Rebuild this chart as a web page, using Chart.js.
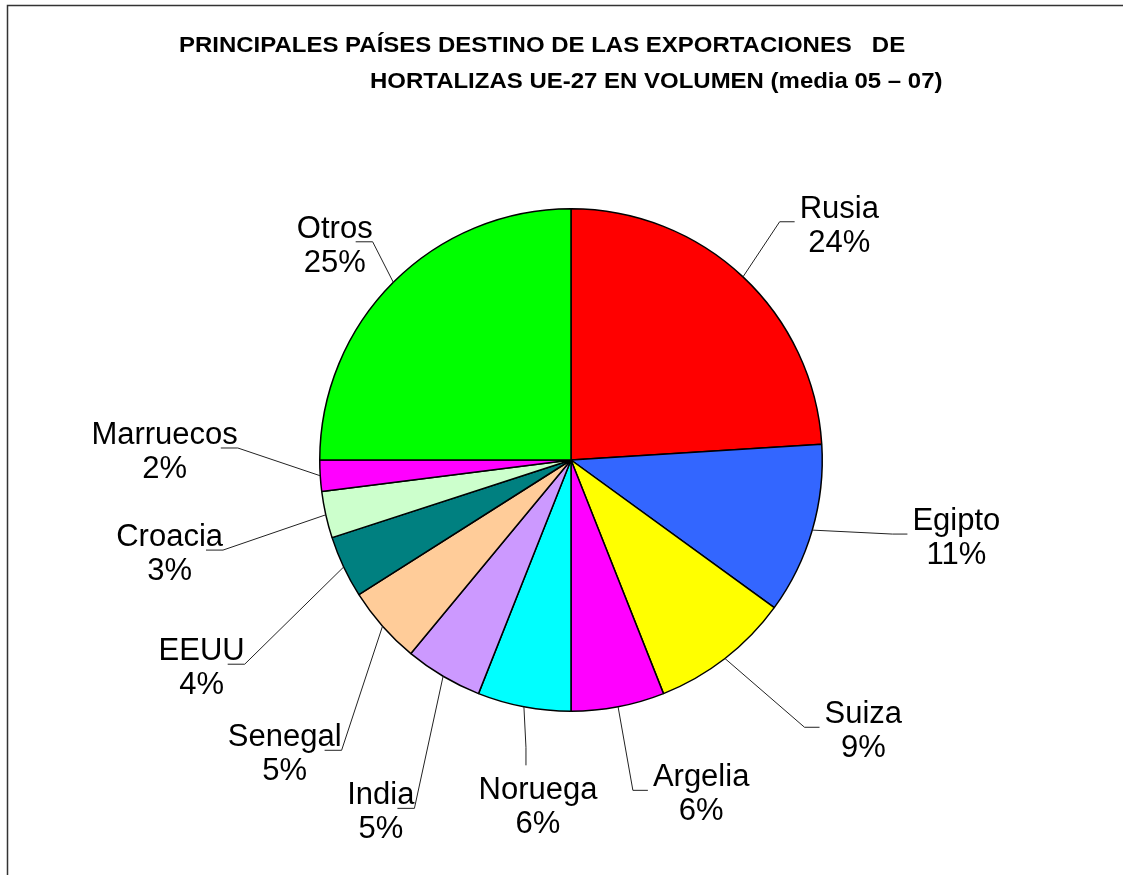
<!DOCTYPE html>
<html>
<head>
<meta charset="utf-8">
<title>Exportaciones de hortalizas UE-27</title>
<script src="https://cdn.jsdelivr.net/npm/chart.js@4/dist/chart.umd.min.js"></script>
<style>
  html, body { margin: 0; padding: 0; background: #fff; }
  #wrap { width: 1123px; height: 875px; position: relative; }
</style>
</head>
<body>
<div id="wrap"><canvas id="pieChart" width="1123" height="875"></canvas></div>
<script>
const countries = ['Rusia', 'Egipto', 'Suiza', 'Argelia', 'Noruega', 'India', 'Senegal', 'EEUU', 'Croacia', 'Marruecos', 'Otros'];
const shares = [24, 11, 9, 6, 6, 5, 5, 4, 3, 2, 25];
const sliceColors = ['#ff0000', '#3366ff', '#ffff00', '#ff00ff', '#00ffff', '#cc99ff', '#ffcc99', '#008080', '#ccffcc', '#ff00ff', '#00ff00'];
const titleLines = ['PRINCIPALES PAÍSES DESTINO DE LAS EXPORTACIONES   DE', 'HORTALIZAS UE-27 EN VOLUMEN (media 05 \u2013 07)'];

// label placement, offsets from the pie centre for a 251px radius
const labelSpots = [[268, -238], [385, 74], [292, 267], [130, 330], [-33, 343], [-190, 348], [-286, 290], [-369, 204], [-401, 90], [-406, -12], [-236, -218]];
const labelSides = ['r', 'r', 'r', 'r', 'b', 'l', 'l', 'l', 'l', 'l', 'l'];

const BASE_R = 251;

function stretchedText(ctx, str, x, y, sx) {
    ctx.save();
    ctx.translate(x, y);
    ctx.scale(sx, 1);
    ctx.fillText(str, 0, 0);
    ctx.restore();
}

const decorations = {
    id: 'decorations',
    afterDraw(chart) {
        const ctx = chart.ctx;
        ctx.save();

        // frame
        ctx.strokeStyle = '#333';
        ctx.lineWidth = 1.5;
        ctx.beginPath();
        ctx.moveTo(7.5, 875);
        ctx.lineTo(7.5, 5.5);
        ctx.lineTo(1123, 5.5);
        ctx.stroke();

        // title
        ctx.fillStyle = '#000';
        ctx.font = 'bold 22px "Liberation Sans", Arial, sans-serif';
        ctx.textAlign = 'left';
        ctx.textBaseline = 'alphabetic';
        stretchedText(ctx, titleLines[0], 179, 52, 1.09);
        stretchedText(ctx, titleLines[1], 370, 88, 1.09);

        // slice labels with leader lines
        const meta = chart.getDatasetMeta(0);
        ctx.font = '31px "Liberation Sans", Arial, sans-serif';
        ctx.textAlign = 'center';
        meta.data.forEach((arc, i) => {
            const p = arc.getProps(['x', 'y', 'startAngle', 'endAngle', 'outerRadius'], true);
            const k = p.outerRadius / BASE_R;
            const mid = (p.startAngle + p.endAngle) / 2;
            const ax = p.x + Math.cos(mid) * p.outerRadius;
            const ay = p.y + Math.sin(mid) * p.outerRadius;
            const cx = p.x + labelSpots[i][0] * k;
            const cy = p.y + labelSpots[i][1] * k;
            const nameW = ctx.measureText(countries[i]).width;

            let elbow, end;
            if (labelSides[i] === 'r') {
                const left = cx - nameW / 2;
                elbow = [left - 20, cy];
                end = [left - 5, cy];
            } else if (labelSides[i] === 'l') {
                const right = cx + nameW / 2;
                elbow = [right, cy];
                end = [right - 17, cy];
            } else {
                elbow = [cx - 12, cy - 56];
                end = [cx - 12, cy - 38];
            }
            ctx.strokeStyle = '#222';
            ctx.lineWidth = 1;
            ctx.beginPath();
            ctx.moveTo(ax, ay);
            ctx.lineTo(elbow[0], elbow[1]);
            ctx.lineTo(end[0], end[1]);
            ctx.stroke();

            ctx.fillStyle = '#000';
            ctx.fillText(countries[i], cx, cy - 4);
            ctx.fillText(shares[i] + '%', cx, cy + 30);
        });
        ctx.restore();
    }
};

new Chart(document.getElementById('pieChart').getContext('2d'), {
    type: 'pie',
    data: {
        labels: countries,
        datasets: [{
            data: shares,
            backgroundColor: sliceColors,
            borderColor: '#000',
            borderWidth: 1.5
        }]
    },
    options: {
        responsive: false,
        animation: false,
        layout: { padding: { left: 319, right: 300, top: 208, bottom: 163 } },
        plugins: {
            legend: { display: false },
            tooltip: { enabled: false }
        }
    },
    plugins: [decorations]
});
</script>
</body>
</html>
